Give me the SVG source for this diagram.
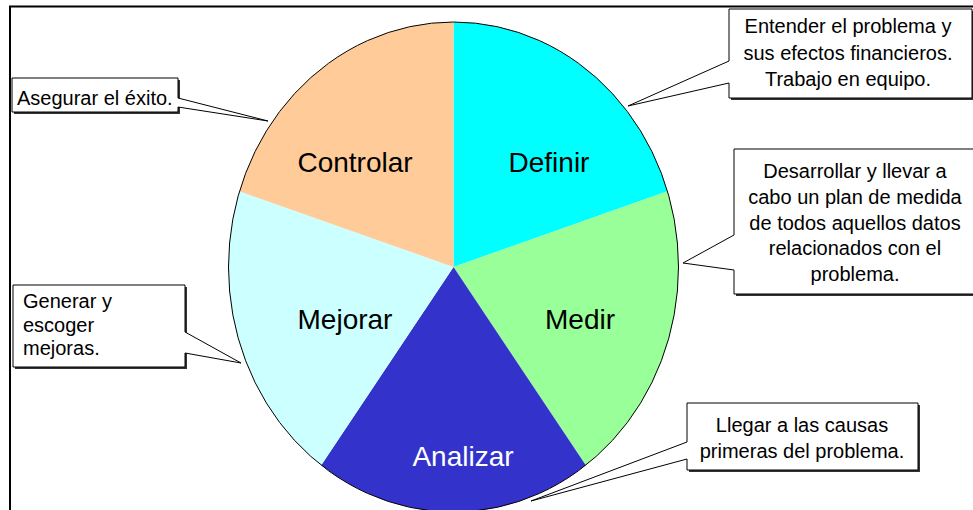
<svg xmlns="http://www.w3.org/2000/svg" width="973" height="510" viewBox="0 0 973 510">
<style>
.frame{fill:none;stroke:#000;stroke-width:2}
.rim{fill:none;stroke:#000;stroke-width:1}
.lbl{font-family:"Liberation Sans",Arial,sans-serif;font-size:28px;fill:#000;text-anchor:middle}
.call{fill:#fff;stroke:#000;stroke-width:1}
.shadow{fill:#333}
.txt{font-family:"Liberation Sans",Arial,sans-serif;font-size:20px;fill:#000}
.c{text-anchor:middle}
</style>
<rect x="0" y="0" width="973" height="510" fill="#fff"/>
<path class="frame" d="M10,510 V6.5 H973"/>
<g id="pie">
  <g id="definir">
    <path d="M453.5,267 L453.5,22 A225,245 0 0 1 667.5,191.3 Z" fill="#00FFFF"/>
    <text class="lbl" x="549" y="172">Definir</text>
  </g>
  <g id="medir">
    <path d="M453.5,267 L667.5,191.3 A225,245 0 0 1 585.8,465.2 Z" fill="#99FF99"/>
    <text class="lbl" x="580" y="329">Medir</text>
  </g>
  <g id="analizar">
    <path d="M453.5,267 L585.8,465.2 A225,245 0 0 1 321.2,465.2 Z" fill="#3333CC"/>
    <text class="lbl" x="463" y="466" fill="#fff" style="fill:#fff">Analizar</text>
  </g>
  <g id="mejorar">
    <path d="M453.5,267 L321.2,465.2 A225,245 0 0 1 239.5,191.3 Z" fill="#CCFFFF"/>
    <text class="lbl" x="345" y="329">Mejorar</text>
  </g>
  <g id="controlar">
    <path d="M453.5,267 L239.5,191.3 A225,245 0 0 1 453.5,22 Z" fill="#FFCC99"/>
    <text class="lbl" x="355" y="172">Controlar</text>
  </g>
  <ellipse class="rim" cx="453.5" cy="267" rx="225" ry="245"/>
</g>
<g id="connectors"></g>
<g id="callout-controlar">
  <rect class="shadow" x="14" y="80" width="166" height="34"/>
  <path class="call" d="M12,78 H178 V98 L268,121 L178,107 V112 H12 Z"/>
  <text class="txt" x="17" y="105">Asegurar el éxito.</text>
</g>
<g id="callout-definir">
  <rect class="shadow" x="731" y="11" width="245" height="89"/>
  <path class="call" d="M729,9 H972 V98 H729 V83 L628,106 L729,61 Z"/>
  <text class="txt c" x="848" y="33">Entender el problema y</text>
  <text class="txt c" x="848" y="60">sus efectos financieros.</text>
  <text class="txt c" x="848" y="86">Trabajo en equipo.</text>
</g>
<g id="callout-medir">
  <rect class="shadow" x="736" y="151" width="250" height="145"/>
  <path class="call" d="M734,149 H985 V294 H734 V270 L683,263 L734,235 Z"/>
  <text class="txt c" x="855" y="178">Desarrollar y llevar a</text>
  <text class="txt c" x="855" y="204">cabo un plan de medida</text>
  <text class="txt c" x="855" y="230">de todos aquellos datos</text>
  <text class="txt c" x="855" y="255">relacionados con el</text>
  <text class="txt c" x="855" y="281">problema.</text>
</g>
<g id="callout-mejorar">
  <rect class="shadow" x="15" y="287" width="172" height="82"/>
  <path class="call" d="M13,285 H185 V332 L241,363 L185,353 V367 H13 Z"/>
  <text class="txt" x="23" y="308">Generar y</text>
  <text class="txt" x="23" y="332">escoger</text>
  <text class="txt" x="23" y="355">mejoras.</text>
</g>
<g id="callout-analizar">
  <rect class="shadow" x="689" y="405" width="231" height="67"/>
  <path class="call" d="M687,403 H918 V470 H687 V459 L531,501 L687,442 Z"/>
  <text class="txt c" x="802" y="432">Llegar a las causas</text>
  <text class="txt c" x="802" y="458">primeras del problema.</text>
</g>
</svg>
